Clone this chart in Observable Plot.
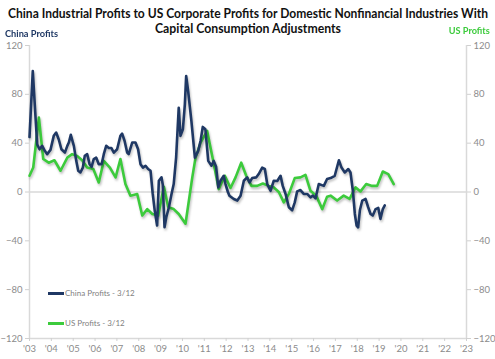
<!DOCTYPE html>
<html>
<head>
<meta charset="utf-8">
<script src="https://cdn.jsdelivr.net/npm/d3@7"></script>
<script src="https://cdn.jsdelivr.net/npm/@observablehq/plot@0.6"></script>
<style>
  html, body { margin: 0; padding: 0; background: #fff; }
  #wrap { position: relative; width: 495px; height: 359px; overflow: hidden; font-family: Lato, "Open Sans", sans-serif; }
  .tl { position: absolute; white-space: nowrap; font-weight: 700; font-size: 14px; line-height: 14px; height: 14px; color: #111; transform-origin: center center; }
  #lblL { position: absolute; left: 5px; top: 28px; font-weight: 700; font-size: 10px; line-height: 11px; color: #1F3864; white-space: nowrap; transform-origin: left center; }
  #lblR { position: absolute; right: 5px; top: 25px; font-weight: 700; font-size: 10px; line-height: 11px; color: #3CCB3C; white-space: nowrap; transform-origin: right center; }
  #chart { position: absolute; left: 0; top: 38px; }
  .leg { position: absolute; left: 48px; font-size: 8px; color: #7f7f7f; display: flex; align-items: center; white-space: nowrap; }
  .leg span.sw { display: inline-block; width: 16px; height: 3px; margin-right: 1px; }
</style>
</head>
<body>
<div id="wrap">
  <div class="tl" id="t1" data-w="480" style="top:6px;left:248px">China Industrial Profits to US Corporate Profits for Domestic Nonfinancial Industries With</div>
  <div class="tl" id="t2" data-w="186" style="top:21px;left:248px">Capital Consumption Adjustments</div>
  <div id="lblL" data-w="53">China Profits</div>
  <div id="lblR" data-w="41">US Profits</div>
  <div id="chart"></div>
  <div class="leg" style="top:288px"><span class="sw" style="background:#1F3864"></span>China Profits - 3/12</div>
  <div class="leg" style="top:318px"><span class="sw" style="background:#3CCB3C"></span>US Profits - 3/12</div>
</div>
<script>
// China industrial profits (% y/y), decimal year
const chinaYears = [2003.00,2003.15,2003.35,2003.46,2003.58,2003.70,2003.81,2003.96,2004.11,2004.22,2004.34,2004.46,2004.62,2004.73,2004.80,2004.89,2005.03,2005.14,2005.23,2005.33,2005.44,2005.53,2005.64,2005.75,2005.84,2005.94,2006.05,2006.17,2006.30,2006.40,2006.51,2006.63,2006.75,2006.86,2007.01,2007.16,2007.24,2007.35,2007.47,2007.54,2007.70,2007.85,2007.97,2008.08,2008.19,2008.31,2008.43,2008.54,2008.64,2008.73,2008.84,2008.92,2009.04,2009.10,2009.18,2009.26,2009.38,2009.50,2009.60,2009.71,2009.83,2009.91,2010.02,2010.11,2010.17,2010.26,2010.41,2010.57,2010.72,2010.83,2010.93,2011.05,2011.18,2011.33,2011.43,2011.54,2011.64,2011.74,2011.89,2011.97,2012.08,2012.15,2012.35,2012.51,2012.66,2012.81,2012.96,2013.07,2013.19,2013.38,2013.49,2013.65,2013.77,2013.88,2014.03,2014.18,2014.34,2014.49,2014.59,2014.72,2014.87,2015.02,2015.14,2015.25,2015.40,2015.55,2015.71,2015.86,2015.97,2016.09,2016.24,2016.47,2016.62,2016.78,2016.97,2017.16,2017.28,2017.43,2017.59,2017.69,2017.80,2017.89,2017.97,2018.04,2018.12,2018.23,2018.38,2018.50,2018.61,2018.71,2018.84,2018.96,2019.06,2019.17,2019.26];
const chinaValues = [45,99,39,35,37.8,33.7,31,34.5,46,48.7,43,35,32.3,37.8,40.5,46.8,37.8,25.5,17.4,16,20,29.6,31,22.8,20.6,27,28.2,22.8,22.8,31,37.8,36,36,32.3,35,46,47.8,42,32.3,31,40.5,40.5,35,22.8,20,21.5,18.8,17.4,-1.6,-15,-27.5,9.2,12,6,-28.9,-20.7,-12.5,-1.6,6.5,28.2,69,46,51.4,71.8,95,82.7,58,28.2,33.7,42,53.3,51.4,25.5,21.5,25.5,20.6,3.8,9.2,13.3,6.5,0,-3,-5.7,-7,-3,9.2,12,7.8,11.4,12,14.7,20,19,6.5,1,9.2,9,13.3,5,-1.6,-12.5,-15,-8.5,0.5,1.6,-1.6,-1.6,-4.4,-3,-5.2,6.5,5,10.6,11.4,13.3,26,20,16,18.8,16,1,-18,-27.5,-28.9,-15,-7,-5.7,-12.5,-18,-19.3,-14,-13,-22,-14,-11];

// US corporate profits (% y/y), decimal year
const usYears = [2003.00,2003.17,2003.43,2003.63,2003.88,2004.14,2004.42,2004.73,2004.95,2005.18,2005.41,2005.64,2005.92,2006.17,2006.40,2006.68,2006.94,2007.16,2007.39,2007.62,2007.93,2008.16,2008.39,2008.62,2008.89,2009.15,2009.35,2009.60,2009.83,2010.14,2010.45,2010.60,2010.83,2011.13,2011.39,2011.66,2011.94,2012.20,2012.43,2012.69,2012.92,2013.16,2013.42,2013.68,2013.95,2014.18,2014.41,2014.64,2014.87,2015.14,2015.40,2015.63,2015.86,2016.12,2016.40,2016.62,2016.78,2017.08,2017.38,2017.65,2017.92,2018.15,2018.41,2018.68,2018.91,2019.17,2019.42,2019.67];
const usValues = [13.3,20,61,27,24,26,17.4,28.2,31,29.6,26,20,18.8,7.8,25.5,20,12,27,6.5,-3,-1.6,-19.3,-14,-18,-19.3,4.3,-12.5,-14,-18,-26,12,28.2,40.5,50,27,2.4,13.3,3.3,12,24,13.3,5,5,7,5,3.8,0,-8.5,-1.6,11.4,12,14.1,1,-3,-14,-3.8,-3,-7,-3,-5.7,3.8,0.5,6.5,5,5,16.8,14.7,6.5];

const xDomain = [2003, 2023];
const yDomain = [-120, 120];
const yTicks = [-120, -80, -40, 0, 40, 80, 120];
const xTicks = d3.range(2003, 2024);

const china = chinaYears.map((t, i) => ({t, v: chinaValues[i]}));
const us = usYears.map((t, i) => ({t, v: usValues[i]}));

const fmtX = d => "'" + String(d % 100).padStart(2, "0");

const chart = Plot.plot({
  width: 495,
  height: 321,
  marginLeft: 29,
  marginRight: 29,
  marginTop: 7,
  marginBottom: 21,
  x: {domain: xDomain},
  y: {domain: yDomain},
  style: {fontFamily: "Lato, sans-serif", fontSize: "9.5px", color: "#8c8c8c", background: "transparent"},
  marks: [
    Plot.ruleY([0], {stroke: "#d9d9d9", strokeWidth: 1.5}),
    Plot.ruleX(xDomain, {stroke: "#d9d9d9", strokeWidth: 1.5}),
    Plot.ruleY([yDomain[0]], {stroke: "#d9d9d9", strokeWidth: 1.5}),
    Plot.axisY(yTicks, {anchor: "left", tickSize: 4, tickPadding: 3, stroke: "#d0d0d0", label: null}),
    Plot.axisY(yTicks, {anchor: "right", tickSize: 4, tickPadding: 3, stroke: "#d0d0d0", label: null}),
    Plot.axisX(xTicks, {anchor: "bottom", tickSize: 3, tickPadding: 4, stroke: "#d0d0d0", tickFormat: fmtX, label: null}),
    Plot.line(us, {x: "t", y: "v", stroke: "#3CCB3C", strokeWidth: 2.6, curve: "linear"}),
    Plot.line(china, {x: "t", y: "v", stroke: "#1F3864", strokeWidth: 2.6, curve: "linear"})
  ]
});
chart.querySelectorAll('g[aria-label="line"]').forEach(g => {
  g.style.filter = "drop-shadow(1px 2px 1px rgba(0,0,0,0.25))";
});
document.getElementById("chart").appendChild(chart);

// fit text widths to the reference layout
document.querySelectorAll(".tl").forEach(el => {
  const w = el.getBoundingClientRect().width;
  el.style.transform = `translateX(-50%) scaleX(${(+el.dataset.w) / w})`;
});
["lblL", "lblR"].forEach(id => {
  const el = document.getElementById(id);
  const w = el.getBoundingClientRect().width;
  el.style.transform = `scaleX(${(+el.dataset.w) / w})`;
});
</script>
</body>
</html>
